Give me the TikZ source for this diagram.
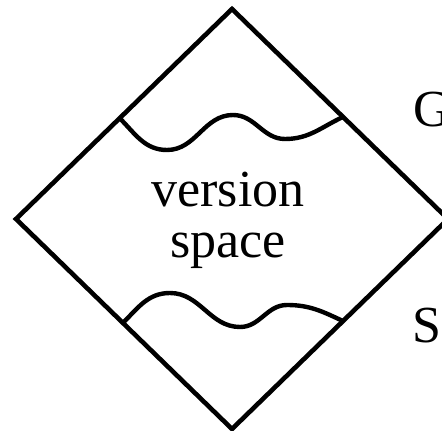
\documentclass[tikz,border=0pt]{standalone}
\usepackage{fontspec}
\setmainfont{Liberation Serif}
\usepackage{tikz}
\usetikzlibrary{calc}

\begin{document}
\begin{tikzpicture}[
  x=1pt,y=1pt,
  edge/.style={draw=black,line width=4.6pt},
  wave/.style={draw=black,line width=4.4pt},
  label/.style={font=\fontsize{52}{52}\selectfont,inner sep=0pt}
]
\useasboundingbox (0,0) rectangle (442,431);
% the diamond
\coordinate (top) at (232,422);
\coordinate (right) at (448,212);
\coordinate (bottom) at (232,2);
\coordinate (left) at (16,212);
\draw[edge] (top) -- (right) -- (bottom) -- (left) -- cycle;
% boundary ends on the edges
\coordinate (gl) at ($(left)!0.48!(top)$);
\coordinate (gr) at ($(top)!0.514!(right)$);
\coordinate (sl) at ($(left)!0.495!(bottom)$);
\coordinate (sr) at ($(bottom)!0.514!(right)$);
\draw[wave] (gl) to[out=-45,in=180] (167,281) to[out=0,in=180] (233,316)
  to[out=0,in=180] (285,292) to[out=0,in=205] (gr);
\draw[wave] (sl) to[out=45,in=180] (170,138) to[out=0,in=180] (240,104)
  to[out=0,in=180] (287,126) to[out=0,in=155] (sr);
\node[label,anchor=base] (ver) at (228,224) {version};
\node[label,anchor=base] (spa) at (228,173) {space};
\node[label,anchor=base west] (g) at (413,304) {G};
\node[label,anchor=base west] (s) at (412,88) {S};
\end{tikzpicture}
\end{document}
